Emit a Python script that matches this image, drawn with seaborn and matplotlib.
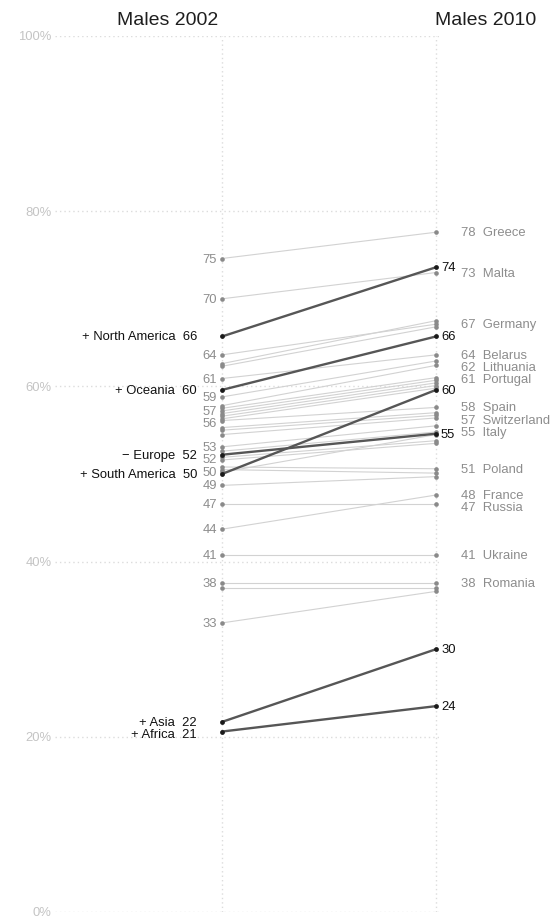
import matplotlib
matplotlib.use("Agg")
import matplotlib.pyplot as plt
import matplotlib.transforms as mtransforms
import pandas as pd
import seaborn as sns

# ---- data -------------------------------------------------------------
years = ["Males 2002", "Males 2010"]

country_names = [
    "Greece", "Malta", "Germany", "", "", "Belarus", "", "Lithuania",
    "Portugal", "", "", "", "", "Spain", "Switzerland", "", "", "", "Italy",
    "", "", "Poland", "", "", "", "Russia", "France", "Ukraine", "Romania",
    "", "",
]
country_2002 = [
    74.6, 70.0, 63.6, 62.6, 62.3, 60.9, 58.8, 57.8, 57.5, 57.2, 56.9, 56.6,
    56.3, 56.1, 55.3, 55.0, 54.5, 53.1, 52.6, 51.9, 51.6, 50.8, 50.5, 50.2,
    48.7, 46.6, 43.7, 40.8, 37.6, 37.0, 33.0,
]
country_2010 = [
    77.6, 73.0, 67.1, 67.5, 66.8, 63.6, 62.9, 62.4, 61.0, 60.7, 60.4, 60.1,
    59.8, 57.6, 57.0, 56.7, 56.4, 55.5, 54.8, 53.8, 53.5, 50.6, 50.1, 54.5,
    49.7, 46.6, 47.6, 40.8, 37.6, 37.0, 36.6,
]
# which 2002 values get a number beside them
country_label_2002 = [
    True, True, True, False, False, True, True, False, False, True, False,
    False, False, True, False, False, False, True, False, True, False, False,
    False, True, True, True, True, True, True, False, True,
]

regions = ["+ North America", "+ Oceania", "\u2212 Europe", "+ South America",
           "+ Asia", "+ Africa"]
region_2002 = [65.7, 59.6, 52.2, 50.0, 21.7, 20.6]
region_2010 = [73.6, 65.7, 54.6, 59.6, 30.0, 23.5]

y_ticks = [0, 20, 40, 60, 80, 100]
y_tick_labels = ["0%", "20%", "40%", "60%", "80%", "100%"]

# ---- long tables for seaborn ------------------------------------------
rows = []
for i, (a, b) in enumerate(zip(country_2002, country_2010)):
    rows.append({"id": i, "x": 0, "value": a})
    rows.append({"id": i, "x": 1, "value": b})
countries = pd.DataFrame(rows)

rows = []
for i, (a, b) in enumerate(zip(region_2002, region_2010)):
    rows.append({"id": i, "x": 0, "value": a})
    rows.append({"id": i, "x": 1, "value": b})
region_df = pd.DataFrame(rows)

# ---- style ------------------------------------------------------------
sns.set_theme(style="white")
plt.rcParams["font.family"] = ["Liberation Sans", "DejaVu Sans"]

W, H, DPI = 559, 918, 100
fig = plt.figure(figsize=(W / DPI, H / DPI), dpi=DPI)
ax = fig.add_axes([55 / W, 6 / H, 384 / W, 876 / H])

px_per_unit = 214.0
XLIM = (-167 / px_per_unit, (384 - 167) / px_per_unit)

# ---- marks ------------------------------------------------------------
sns.lineplot(data=countries, x="x", y="value", units="id", estimator=None,
             color="#d2d2d2", linewidth=0.8, ax=ax, zorder=2, legend=False)
sns.scatterplot(data=countries, x="x", y="value", color="#8a8a8a", s=11,
                linewidth=0, ax=ax, zorder=3, legend=False)
sns.lineplot(data=region_df, x="x", y="value", units="id", estimator=None,
             color="#565656", linewidth=1.7, ax=ax, zorder=4, legend=False)
sns.scatterplot(data=region_df, x="x", y="value", color="#1a1a1a", s=12,
                linewidth=0, ax=ax, zorder=5, legend=False)

ax.set_xlabel("")
ax.set_ylabel("")
ax.set_xlim(*XLIM)
ax.set_ylim(0, 100)

GRID = "#dcdcdc"
ax.set_xticks([0, 1])
ax.set_xticklabels(["", ""])
ax.set_yticks(y_ticks)
ax.set_yticklabels(y_tick_labels, color="#c4c4c4", fontsize=9.4)
ax.tick_params(axis="both", length=0, pad=2.5)
ax.grid(True, linestyle=(0, (1, 2.2)), color=GRID, linewidth=1.0)
ax.set_axisbelow(True)
for s in ax.spines.values():
    s.set_visible(False)


# ---- labels -----------------------------------------------------------
def spread_down(values, gap):
    """Greedy top-down placement so labels keep a minimum vertical gap."""
    order = sorted(range(len(values)), key=lambda k: -values[k])
    pos = [0.0] * len(values)
    prev = None
    for k in order:
        y = values[k]
        if prev is not None and y > prev - gap:
            y = prev - gap
        pos[k] = y
        prev = y
    return pos


GAP = 1.4
GREY = "#8d8d8d"
BLACK = "#111111"
FS = 9.4


def off(dx, dy=-1):
    return mtransforms.offset_copy(ax.transData, fig=fig, x=dx, y=dy,
                                   units="dots")


# grey 2002 numbers
vals = [v for v, f in zip(country_2002, country_label_2002) if f]
for v, y in zip(vals, spread_down(vals, GAP)):
    ax.text(0, y, f"{v:.0f}", transform=off(-5), ha="right", va="center",
            color=GREY, fontsize=FS, clip_on=False)

# grey 2010 numbers with country names
named = [(n, v) for n, v in zip(country_names, country_2010) if n]
vals = [v for _, v in named]
for (n, v), y in zip(named, spread_down(vals, GAP)):
    ax.text(1, y, f"{v:.0f}  {n}", transform=off(25), ha="left", va="center",
            color=GREY, fontsize=FS, clip_on=False)

# region labels
for name, v, y in zip(regions, region_2002, spread_down(region_2002, GAP)):
    ax.text(0, y, f"{name}  {v:.0f}", transform=off(-25), ha="right",
            va="center", color=BLACK, fontsize=FS, clip_on=False)
for v, y in zip(region_2010, spread_down(region_2010, GAP)):
    ax.text(1, y, f"{v:.0f}", transform=off(5), ha="left", va="center",
            color=BLACK, fontsize=FS, clip_on=False)

# column headings
blend = mtransforms.blended_transform_factory(ax.transData, ax.transAxes)
ax.text(0, 1, years[0], ha="right", va="baseline", fontsize=14, color="#1e1e1e",
        transform=mtransforms.offset_copy(blend, fig=fig, x=-4, y=11, units="dots"),
        clip_on=False)
ax.text(1, 1, years[1], ha="left", va="baseline", fontsize=14, color="#1e1e1e",
        transform=mtransforms.offset_copy(blend, fig=fig, x=-1, y=11, units="dots"),
        clip_on=False)

fig.savefig("out.png", dpi=DPI, facecolor="white")
